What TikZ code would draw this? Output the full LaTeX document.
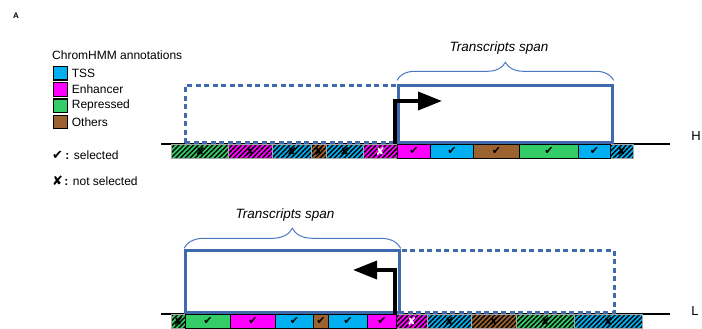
\documentclass[tikz,border=0pt]{standalone}
\usepackage{fontspec}
\setmainfont{Liberation Sans}
\newfontfamily\symfont{DejaVu Sans}
\usetikzlibrary{arrows.meta, positioning, decorations.pathreplacing, patterns.meta}
\definecolor{tssBlue}{HTML}{00B0F0}
\definecolor{enhMagenta}{HTML}{FF00FF}
\definecolor{repGreen}{HTML}{33CC66}
\definecolor{othBrown}{HTML}{9C6331}
\definecolor{spanBlue}{HTML}{3F6AAE}
\definecolor{braceBlue}{HTML}{4A78C2}
\tikzset{
  segS/.style={rectangle, draw=black, line width=0.9pt, anchor=north west,
               inner sep=0pt, minimum height=13.5pt,
               font=\symfont\fontsize{11}{11}\selectfont},
  segH/.style={segS, draw=black!35, line width=0.5pt,
               pattern={Lines[angle=45, distance=3.4pt, line width=1.4pt]},
               pattern color=black},
  legBox/.style={rectangle, draw=black, line width=1.2pt, minimum size=13.5pt,
                 inner sep=0pt},
  legText/.style={anchor=west, inner sep=0pt, font=\fontsize{12}{14}\selectfont},
  spanBox/.style={rectangle, draw=spanBlue, line width=2.7pt, inner sep=0pt,
                  anchor=south west},
  spanDash/.style={spanBox, dash pattern=on 5pt off 3.5pt},
  spanBrace/.style={decorate, decoration={brace, amplitude=#1}, draw=braceBlue,
                    line width=1pt},
  spanText/.style={font=\itshape\fontsize{13.5}{16}\selectfont},
  arrowTx/.style={-{Triangle[length=24pt, width=18pt]}, line width=3.6pt, black},
  strand/.style={line width=2pt, black},
  strandLbl/.style={font=\fontsize{13}{15}\selectfont},
}
\begin{document}
\begin{tikzpicture}[x=1pt, y=-1pt]
  \useasboundingbox (0,0) rectangle (702,329);
  \node[font=\bfseries\fontsize{8}{9}\selectfont] (panel) at (16,16) {A};

  % legend
  \node[legText] (legTitle) at (52,55) {ChromHMM annotations};
  \node[legBox, fill=tssBlue, anchor=north west] (legTss) at (53,66) {};
  \node[legBox, fill=enhMagenta, below=1.5pt of legTss] (legEnh) {};
  \node[legBox, fill=repGreen, below=1.5pt of legEnh] (legRep) {};
  \node[legBox, fill=othBrown, below=1.5pt of legRep] (legOth) {};
  \node[legText, right=4pt of legTss] {TSS};
  \node[legText, right=4pt of legEnh] {Enhancer};
  \node[legText, right=4pt of legRep] {Repressed};
  \node[legText, right=4pt of legOth] {Others};
  \node[legText, font=\symfont\fontsize{13}{14}\selectfont] (legCk) at (52,155) {✔};
  \node[legText, right=2pt of legCk] {\textbf{:} selected};
  \node[legText, font=\symfont\fontsize{13}{14}\selectfont] (legX) at (52,181) {✘};
  \node[legText, right=1pt of legX] {\textbf{:} not selected};

  % strands
  \draw[strand] (161,144) -- (670,144);
  \draw[strand] (161,314) -- (670,314);
  \node[strandLbl] (hName) at (696,136) {H};
  \node[strandLbl] (lName) at (695,311) {L};

  % segments not selected
  \foreach \xa/\xb/\yy/\col/\mc [count=\i] in {
      171/228/144/repGreen/black, 228/272/144/enhMagenta/black,
      272/311/144/tssBlue/black, 311/326/144/othBrown/black,
      326/363/144/tssBlue/black, 363/397/144/enhMagenta/white,
      610/633/144/tssBlue/black,
      171/185/314/repGreen/black, 396/427/314/enhMagenta/white,
      427/471/314/tssBlue/black, 471/516/314/othBrown/black,
      516/574/314/repGreen/black, 574/642/314/tssBlue/black}{
    \pgfmathsetmacro{\w}{\xb-\xa}
    \node[segH, preaction={fill=\col}, minimum width=\w pt, text=\mc] (sx\i) at (\xa,\yy) {✘};
  }
  % segments selected
  \foreach \xa/\xb/\yy/\col [count=\i] in {
      397/430/144/enhMagenta, 430/473/144/tssBlue, 473/519/144/othBrown,
      519/578/144/repGreen, 578/610/144/tssBlue,
      185/230/314/repGreen, 230/275/314/enhMagenta, 275/313/314/tssBlue,
      313/328/314/othBrown, 328/367/314/tssBlue, 367/396/314/enhMagenta}{
    \pgfmathsetmacro{\w}{\xb-\xa}
    \node[segS, fill=\col, minimum width=\w pt] (sc\i) at (\xa,\yy) {✔};
  }

  % H strand transcripts
  \node[spanDash, minimum width=213pt, minimum height=57pt] (hOff) at (184,144) {};
  \node[spanBox, minimum width=214pt, minimum height=57pt] (hSpan) at (397,144) {};
  \draw[spanBrace=18pt] ([yshift=4pt]hSpan.north west) -- ([yshift=4pt]hSpan.north east);
  \node[spanText] (hLbl) at (499,48) {Transcripts span};
  \coordinate (hTss) at (395,144);
  \coordinate (hDir) at (442,101);
  \draw[arrowTx] (hTss) |- (hDir);

  % L strand transcripts
  \node[spanBox, minimum width=214pt, minimum height=62pt] (lSpan) at (184,314) {};
  \node[spanDash, minimum width=215pt, minimum height=62pt] (lOff) at (398,314) {};
  \draw[spanBrace=20pt] ([yshift=1pt]lSpan.north west) -- ([yshift=1pt]lSpan.north east);
  \node[spanText] (lLbl) at (285,215) {Transcripts span};
  \coordinate (lTss) at (395,314);
  \coordinate (lDir) at (353,270);
  \draw[arrowTx] (lTss) |- (lDir);
\end{tikzpicture}
\end{document}
